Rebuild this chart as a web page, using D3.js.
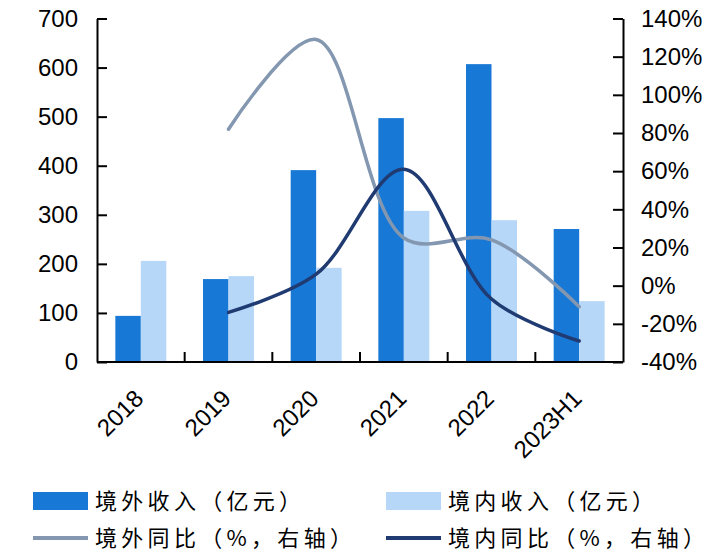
<!DOCTYPE html>
<html>
<head>
<meta charset="utf-8">
<script src="https://cdn.jsdelivr.net/npm/d3@7"></script>
<style>
  body { margin: 0; background: #fff; }
  svg text { font-family: Arial, "Liberation Sans", sans-serif; fill: #000; }
  .legend text { font-family: "Noto Sans CJK SC", sans-serif; }
</style>
</head>
<body>
<svg id="chart"></svg>
<script>
const categories = ["2018", "2019", "2020", "2021", "2022", "2023H1"];
const overseasRevenue = [94, 169, 391, 497, 607, 271];
const domesticRevenue = [206, 175, 192, 308, 289, 124];
const overseasYoY = [null, 82, 129, 25, 24, -11];
const domesticYoY = [null, -14, 6, 61, -7, -29];
const leftTicks = [0, 100, 200, 300, 400, 500, 600, 700];
const rightTicks = [-40, -20, 0, 20, 40, 60, 80, 100, 120, 140];

const chartSize = { width: 710, height: 552 };
const plot = { left: 97, right: 623, top: 18.5, bottom: 362 };

const colors = {
    overseas: "#1878D5",
    domestic: "#B6D7F7",
    overseasLine: "#8497B0",
    domesticLine: "#203A72"
};

const svg = d3.select("#chart")
    .attr("width", chartSize.width)
    .attr("height", chartSize.height);

const x = d3.scaleBand()
    .domain(categories)
    .range([plot.left, plot.right]);

const xInner = d3.scaleBand()
    .domain(["overseas", "domestic"])
    .range([0, x.bandwidth()])
    .paddingOuter(0.72);

const yLeft = d3.scaleLinear().domain([0, 700]).range([plot.bottom, plot.top]);
const yRight = d3.scaleLinear().domain([-40, 140]).range([plot.bottom, plot.top]);

// bars
const series = [
    { key: "overseas", values: overseasRevenue },
    { key: "domestic", values: domesticRevenue }
];
series.forEach(s => {
    svg.append("g").selectAll("rect")
        .data(categories)
        .join("rect")
        .attr("x", c => x(c) + xInner(s.key))
        .attr("width", xInner.bandwidth())
        .attr("y", (c, i) => yLeft(s.values[i]))
        .attr("height", (c, i) => yLeft(0) - yLeft(s.values[i]))
        .attr("fill", colors[s.key]);
});

// lines
const line = d3.line()
    .defined(d => d.v != null)
    .x(d => x(d.c) + x.bandwidth() / 2)
    .y(d => yRight(d.v))
    .curve(d3.curveCatmullRom.alpha(0.5));

[[overseasYoY, colors.overseasLine], [domesticYoY, colors.domesticLine]].forEach(([vals, col]) => {
    svg.append("path")
        .datum(categories.map((c, i) => ({ c, v: vals[i] })))
        .attr("d", line)
        .attr("fill", "none")
        .attr("stroke", col)
        .attr("stroke-width", 3.5)
        .attr("stroke-linecap", "round");
});

// axes
const leftAxis = svg.append("g")
    .attr("transform", `translate(${plot.left},0)`)
    .call(d3.axisLeft(yLeft).tickValues(leftTicks).tickSizeInner(-10).tickSizeOuter(0).tickPadding(19));

const rightAxis = svg.append("g")
    .attr("transform", `translate(${plot.right},0)`)
    .call(d3.axisRight(yRight).tickValues(rightTicks).tickFormat(d => d + "%")
        .tickSizeInner(-10).tickSizeOuter(0).tickPadding(18));

[leftAxis, rightAxis].forEach(a => {
    a.select(".domain").attr("stroke", "#000").attr("stroke-width", 2);
    a.selectAll(".tick line").attr("stroke", "#000").attr("stroke-width", 2);
    a.selectAll(".tick text").attr("font-size", 24).attr("fill", "#000");
});

const xAxis = svg.append("g");
xAxis.append("line")
    .attr("x1", plot.left).attr("x2", plot.right)
    .attr("y1", plot.bottom).attr("y2", plot.bottom)
    .attr("stroke", "#000").attr("stroke-width", 2);
xAxis.selectAll(".xtick")
    .data(categories.slice(1))
    .join("line")
    .attr("x1", c => x(c)).attr("x2", c => x(c))
    .attr("y1", plot.bottom).attr("y2", plot.bottom - 10)
    .attr("stroke", "#000").attr("stroke-width", 2);
xAxis.selectAll("text")
    .data(categories)
    .join("text")
    .attr("transform", c => `translate(${x(c) + x.bandwidth() / 2 + 4},${plot.bottom + 38}) rotate(-45)`)
    .attr("text-anchor", "end")
    .attr("font-size", 24)
    .text(c => c);

// legend
const legendItems = [
    { label: "境外收入（亿元）", type: "rect", color: colors.overseas, x: 33, y: 501 },
    { label: "境内收入（亿元）", type: "rect", color: colors.domestic, x: 386, y: 501 },
    { label: "境外同比（%，右轴）", type: "line", color: colors.overseasLine, x: 33, y: 538 },
    { label: "境内同比（%，右轴）", type: "line", color: colors.domesticLine, x: 386, y: 538 }
];
const legend = svg.append("g").attr("class", "legend");
legendItems.forEach(d => {
    const g = legend.append("g").attr("transform", `translate(${d.x},${d.y})`);
    if (d.type === "rect") {
        g.append("rect").attr("x", 0).attr("y", -9).attr("width", 55).attr("height", 18).attr("fill", d.color);
    } else {
        g.append("line").attr("x1", 0).attr("x2", 55).attr("y1", 0).attr("y2", 0)
            .attr("stroke", d.color).attr("stroke-width", 4);
    }
    g.append("text")
        .attr("x", 62)
        .attr("dy", "0.35em")
        .attr("font-size", 22)
        .attr("letter-spacing", 4.3)
        .text(d.label);
});
</script>
</body>
</html>
